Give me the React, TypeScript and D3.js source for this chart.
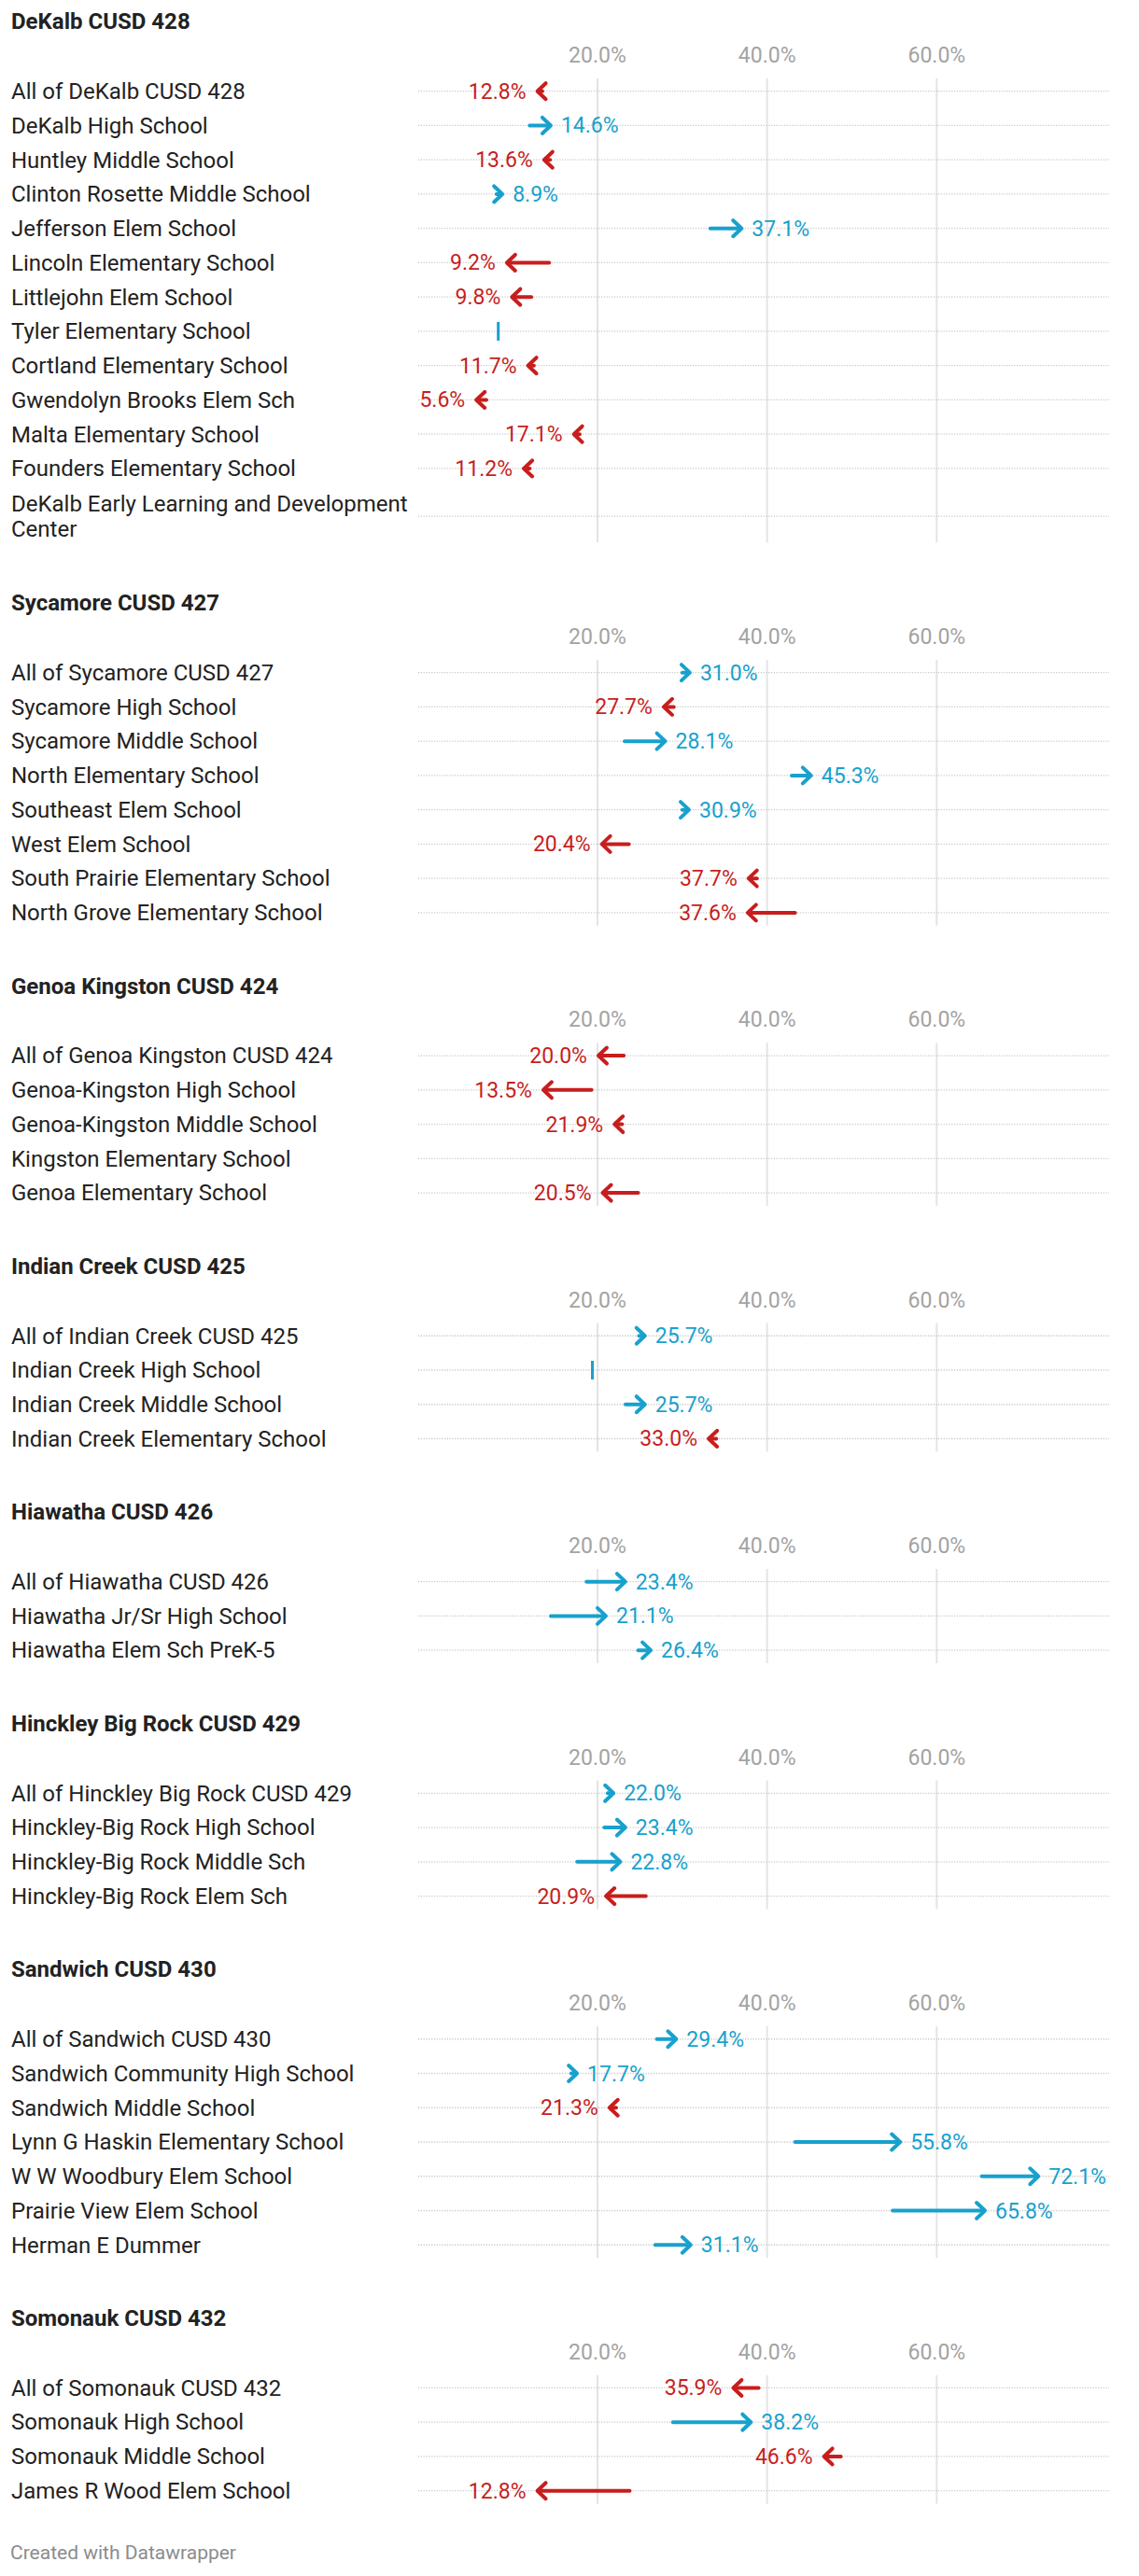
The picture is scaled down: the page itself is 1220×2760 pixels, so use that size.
import React from "react";
import * as d3 from "d3";

const districtNames = [
  "DeKalb CUSD 428",
  "Sycamore CUSD 427",
  "Genoa Kingston CUSD 424",
  "Indian Creek CUSD 425",
  "Hiawatha CUSD 426",
  "Hinckley Big Rock CUSD 429",
  "Sandwich CUSD 430",
  "Somonauk CUSD 432",
];

const rowDistrict = [
  0, 0, 0, 0, 0, 0, 0, 0, 0, 0, 0, 0, 0,
  1, 1, 1, 1, 1, 1, 1, 1,
  2, 2, 2, 2, 2,
  3, 3, 3, 3,
  4, 4, 4,
  5, 5, 5, 5,
  6, 6, 6, 6, 6, 6, 6,
  7, 7, 7, 7,
];

const rowSchool = [
  "All of DeKalb CUSD 428",
  "DeKalb High School",
  "Huntley Middle School",
  "Clinton Rosette Middle School",
  "Jefferson Elem School",
  "Lincoln Elementary School",
  "Littlejohn Elem School",
  "Tyler Elementary School",
  "Cortland Elementary School",
  "Gwendolyn Brooks Elem Sch",
  "Malta Elementary School",
  "Founders Elementary School",
  "DeKalb Early Learning and Development Center",
  "All of Sycamore CUSD 427",
  "Sycamore High School",
  "Sycamore Middle School",
  "North Elementary School",
  "Southeast Elem School",
  "West Elem School",
  "South Prairie Elementary School",
  "North Grove Elementary School",
  "All of Genoa Kingston CUSD 424",
  "Genoa-Kingston High School",
  "Genoa-Kingston Middle School",
  "Kingston Elementary School",
  "Genoa Elementary School",
  "All of Indian Creek CUSD 425",
  "Indian Creek High School",
  "Indian Creek Middle School",
  "Indian Creek Elementary School",
  "All of Hiawatha CUSD 426",
  "Hiawatha Jr/Sr High School",
  "Hiawatha Elem Sch PreK-5",
  "All of Hinckley Big Rock CUSD 429",
  "Hinckley-Big Rock High School",
  "Hinckley-Big Rock Middle Sch",
  "Hinckley-Big Rock Elem Sch",
  "All of Sandwich CUSD 430",
  "Sandwich Community High School",
  "Sandwich Middle School",
  "Lynn G Haskin Elementary School",
  "W W Woodbury Elem School",
  "Prairie View Elem School",
  "Herman E Dummer",
  "All of Somonauk CUSD 432",
  "Somonauk High School",
  "Somonauk Middle School",
  "James R Wood Elem School",
];

const valueFrom: (number | null)[] = [
  13.5, 12.0, 14.4, 8.1, 33.3, 14.3, 12.2, 8.3, 12.5, 6.9, 17.9, 12.0, null,
  30.0, 29.0, 23.2, 42.9, 30.0, 23.7, 38.8, 43.3,
  23.1, 19.3, 22.9, null, 24.8,
  24.9, 19.4, 23.3, 34.0,
  18.7, 14.5, 24.8,
  21.2, 20.8, 17.6, 25.7,
  27.0, 16.9, 22.2, 43.3, 65.3, 54.8, 26.8,
  39.0, 28.9, 48.7, 23.8,
];

const valueTo: (number | null)[] = [
  12.8, 14.6, 13.6, 8.9, 37.1, 9.2, 9.8, 8.3, 11.7, 5.6, 17.1, 11.2, null,
  31.0, 27.7, 28.1, 45.3, 30.9, 20.4, 37.7, 37.6,
  20.0, 13.5, 21.9, null, 20.5,
  25.7, 19.4, 25.7, 33.0,
  23.4, 21.1, 26.4,
  22.0, 23.4, 22.8, 20.9,
  29.4, 17.7, 21.3, 55.8, 72.1, 65.8, 31.1,
  35.9, 38.2, 46.6, 12.8,
];

const xTicks = [20, 40, 60];
const xDomain = [0, 80];

const W = 1220;
const H = 2760;
const FONT = "Roboto, 'Noto Sans', sans-serif";
const LABEL_X = 12;
const PLOT_LEFT = 458.3;
const PLOT_RIGHT = 1185;
const DOT_LEFT = 448;
const DOT_RIGHT = 1188;
const RED = "#c71e1d";
const BLUE = "#18a1cd";
const ROW_H = 36.75;
const LINE_H = 27.7;
const LABEL_SIZE = 24;
const VALUE_SIZE = 23;
const ARROW_W = 4;

let measureCtx: CanvasRenderingContext2D | null = null;
function textWidth(s: string, font: string) {
  if (!measureCtx) {
    const c = document.createElement("canvas");
    measureCtx = c.getContext("2d");
  }
  if (!measureCtx) return s.length * 12;
  measureCtx.font = font;
  return measureCtx.measureText(s).width;
}

function wrapText(s: string, maxW: number) {
  const font = `${LABEL_SIZE}px Roboto`;
  const words = s.split(" ");
  const lines: string[] = [];
  let cur = "";
  for (const w of words) {
    const test = cur ? cur + " " + w : w;
    if (cur && textWidth(test, font) > maxW) {
      lines.push(cur);
      cur = w;
    } else {
      cur = test;
    }
  }
  if (cur) lines.push(cur);
  return lines;
}

export default function App() {
  const x = d3.scaleLinear().domain(xDomain).range([PLOT_LEFT, PLOT_RIGHT]);
  const fmt = d3.format(".1f");

  let firstCenter = 97.7;
  const panels = districtNames.map((name, di) => {
    const idx = rowDistrict.map((d, i) => (d === di ? i : -1)).filter((i) => i >= 0);
    let top = firstCenter - ROW_H / 2;
    const rows = idx.map((i) => {
      const lines = wrapText(rowSchool[i], 432);
      const h = ROW_H + (lines.length - 1) * 28.75;
      const center = top + h / 2;
      top += h;
      return { i, lines, center };
    });
    const panel = {
      name,
      titleY: firstCenter - 66.5,
      tickY: firstCenter - 30.7,
      gridTop: firstCenter - 13.7,
      gridBottom: top - 4.5,
      rows,
    };
    firstCenter = top + 134.8;
    return panel;
  });

  return (
    <svg
      width={W}
      height={H}
      viewBox={`0 0 ${W} ${H}`}
      style={{ position: "absolute", left: 0, top: 0, background: "#fff" }}
      fontFamily={FONT}
    >
      <rect x={0} y={0} width={W} height={H} fill="#fff" />
      {panels.map((p, pi) => (
        <g key={pi}>
          <text x={LABEL_X} y={p.titleY} fontSize={24} fontWeight={700} fill="#222">
            {p.name}
          </text>
          {xTicks.map((t) => (
            <g key={t}>
              <line
                x1={x(t)}
                x2={x(t)}
                y1={p.gridTop}
                y2={p.gridBottom}
                stroke="#e4e4e4"
                strokeWidth={2}
              />
              <text
                x={x(t)}
                y={p.tickY}
                fontSize={VALUE_SIZE}
                fill="#a3a3a3"
                textAnchor="middle"
              >
                {fmt(t) + "%"}
              </text>
            </g>
          ))}
          {p.rows.map((r) => {
            const from = valueFrom[r.i];
            const to = valueTo[r.i];
            const c = r.center;
            const n = r.lines.length;
            let mark: React.ReactNode = null;
            if (from != null && to != null) {
              const x0 = x(from);
              const x1 = x(to);
              if (from === to) {
                mark = (
                  <line x1={x1} x2={x1} y1={c - 10} y2={c + 10} stroke={BLUE} strokeWidth={3} />
                );
              } else {
                const dir = to > from ? 1 : -1;
                const col = dir > 0 ? BLUE : RED;
                const tip = x1 - dir * 1;
                mark = (
                  <g>
                    <line
                      x1={x0}
                      x2={tip - dir * 2}
                      y1={c}
                      y2={c}
                      stroke={col}
                      strokeWidth={ARROW_W}
                      strokeLinecap="round"
                    />
                    <path
                      d={`M${tip - dir * 9},${c - 8.5}L${tip},${c}L${tip - dir * 9},${c + 8.5}`}
                      fill="none"
                      stroke={col}
                      strokeWidth={ARROW_W}
                      strokeLinecap="round"
                      strokeLinejoin="round"
                    />
                    <text
                      x={dir > 0 ? x1 + 10 : x1 - 11}
                      y={c + 8}
                      fontSize={VALUE_SIZE}
                      fill={col}
                      textAnchor={dir > 0 ? "start" : "end"}
                    >
                      {fmt(to) + "%"}
                    </text>
                  </g>
                );
              }
            }
            return (
              <g key={r.i}>
                <line
                  x1={DOT_LEFT}
                  x2={DOT_RIGHT}
                  y1={c}
                  y2={c}
                  stroke="#c8c8c8"
                  strokeWidth={1.3}
                  strokeDasharray="1.2,1.6"
                />
                {r.lines.map((ln, k) => (
                  <text
                    key={k}
                    x={LABEL_X}
                    y={c + 8.3 - ((n - 1) * LINE_H) / 2 + k * LINE_H}
                    fontSize={LABEL_SIZE}
                    fill="#222"
                  >
                    {ln}
                  </text>
                ))}
                {mark}
              </g>
            );
          })}
        </g>
      ))}
      <text x={11} y={2741.7} fontSize={21} fill="#8c8c8c">
        Created with Datawrapper
      </text>
    </svg>
  );
}
